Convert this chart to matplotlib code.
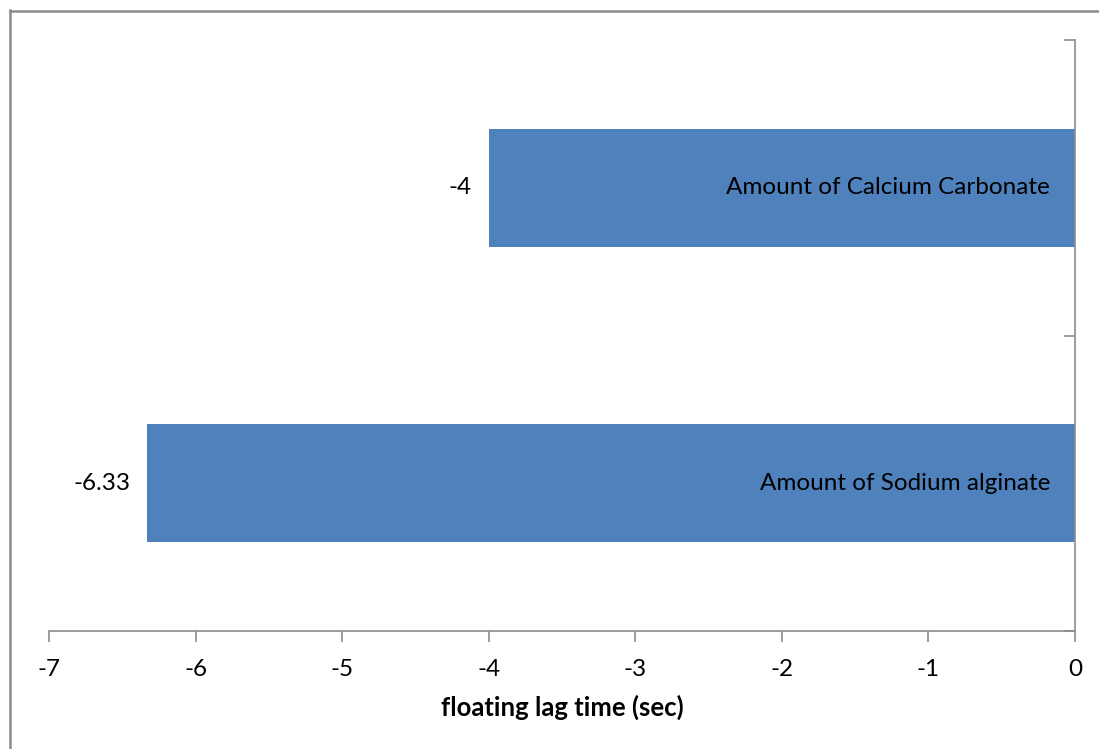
import matplotlib
matplotlib.use("Agg")
import matplotlib.pyplot as plt
from matplotlib.lines import Line2D

categories = ["Amount of Sodium alginate", "Amount of Calcium Carbonate"]
values = [-6.33, -4]
value_labels = ["-6.33", "-4"]
xticks = [-7, -6, -5, -4, -3, -2, -1, 0]

plt.rcParams['font.family'] = ['Lato', 'DejaVu Sans']

FS = 17.5
W, H = 1099, 749
fig = plt.figure(figsize=(W / 100, H / 100), dpi=100)
ax = fig.add_axes([49 / W, (H - 631) / H, (1075 - 49) / W, (631 - 40) / H])

bar_color = "#4F81BD"
ypos = list(range(len(categories)))
ax.barh(ypos, values, height=0.4, color=bar_color)

ax.set_xlim(-7, 0)
ax.set_ylim(-0.5, len(categories) - 0.5)

axis_color = "#8C8C8C"
for s in ["top", "left"]:
    ax.spines[s].set_visible(False)
ax.spines["bottom"].set_color(axis_color)
ax.spines["right"].set_color(axis_color)
ax.spines["bottom"].set_linewidth(1.2)
ax.spines["right"].set_linewidth(1.2)

ax.set_xticks(xticks)
ax.set_xticklabels([str(t) for t in xticks], fontsize=FS)
ax.tick_params(axis="x", direction="out", length=8, width=1.2, color=axis_color, pad=12)

ax.yaxis.tick_right()
ax.set_yticks([-0.5, 0.5, 1.5])
ax.set_yticklabels([])
ax.tick_params(axis="y", direction="in", length=8, width=1.2, color=axis_color)

for y, v, lab, cat in zip(ypos, values, value_labels, categories):
    ax.annotate(lab, xy=(v, y), xytext=(-12, 0), textcoords="offset points",
                ha="right", va="center", fontsize=FS)
    ax.annotate(cat, xy=(0, y), xytext=(-18, 0), textcoords="offset points",
                ha="right", va="center", fontsize=FS)

ax.set_xlabel("floating lag time (sec)", fontsize=18.5, fontweight="bold", labelpad=11)

# figure border (left and top visible)
fig.add_artist(Line2D([9.5 / W, 9.5 / W], [0, (H - 10) / H], color="#8C8C8C", lw=1.8,
                      transform=fig.transFigure))
fig.add_artist(Line2D([9.5 / W, 1], [(H - 10.5) / H, (H - 10.5) / H], color="#8C8C8C", lw=1.8,
                      transform=fig.transFigure))

fig.savefig("out.png", dpi=100)
